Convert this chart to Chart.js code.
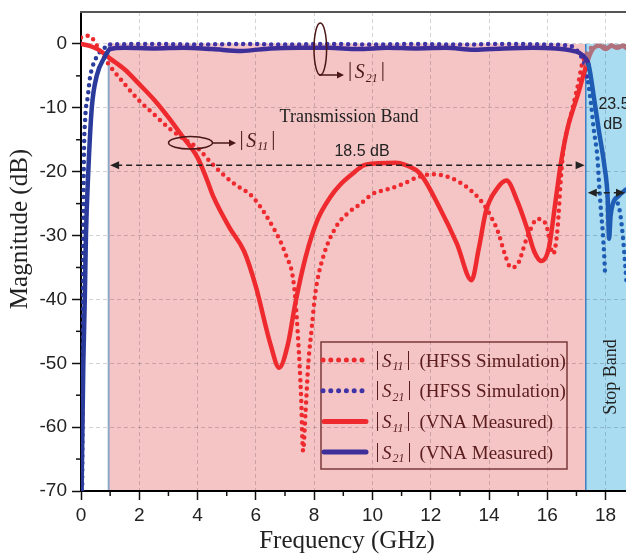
<!DOCTYPE html>
<html>
<head>
<meta charset="utf-8">
<script src="https://cdn.jsdelivr.net/npm/chart.js@4.4.0/dist/chart.umd.min.js"></script>
<style>
  body { margin: 0; background: #fff; }
  #wrap { width: 626px; height: 554px; position: relative; }
</style>
</head>
<body>
<div id="wrap"><canvas id="chart"></canvas></div>
<script>
// axis ticks
const freqTicks = [0, 2, 4, 6, 8, 10, 12, 14, 16, 18];
const freqMinor = [1, 3, 5, 7, 9, 11, 13, 15, 17];
const magTicks = [-70, -60, -50, -40, -30, -20, -10, 0];
const magMinor = [-65, -55, -45, -35, -25, -15, -5];

// bands (GHz)
const passStart = 0.95;
const stopStart = 17.32;

// |S11| VNA measured
const s11MeasFreq = [0, 0.3, 0.6, 1.0, 1.5, 2.0, 2.5, 3.0, 3.5, 4.0, 4.3, 4.55, 5.1, 5.6, 6.0, 6.5, 6.8, 7.1, 7.35, 7.7,
  8.1, 8.55, 8.9, 9.35, 9.7, 10.2, 10.8, 11.1, 11.65, 12.3, 12.9, 13.4, 13.65, 13.9, 14.3, 14.6, 14.97, 15.3, 15.55, 15.8,
  16.05, 16.3, 16.46, 16.7, 16.9, 17.05, 17.25, 17.35, 17.45, 17.6, 17.8, 18.0, 18.2, 18.4, 18.6, 18.7];
const s11MeasDb = [0, -0.3, -0.9, -2.3, -4.0, -6.3, -8.7, -11.5, -14.6, -17.8, -21.0, -24.0, -28.8, -32.5, -38.0, -47.0, -50.7, -47.0, -40.7, -33.5,
  -27.7, -24.0, -22.0, -20.2, -19.0, -18.7, -18.6, -18.9, -20.4, -25.6, -31.3, -37.0, -32.0, -26.1, -22.5, -21.4, -24.6, -28.8, -32.5, -34.0,
  -32.0, -24.0, -18.8, -13.1, -10.0, -7.9, -4.7, -3.2, -1.8, -0.6, -0.3, -0.8, -0.3, -0.6, -0.3, -0.6];

// |S11| HFSS simulation
const s11SimFreq = [0, 0.2, 0.35, 0.55, 0.8, 1.0, 1.5, 2.0, 2.5, 3.0, 3.5, 4.0, 4.5, 5.2, 5.9, 6.3, 6.6, 6.85, 7.07, 7.25,
  7.35, 7.46, 7.55, 7.62, 7.7, 7.8, 7.92, 8.04, 8.3, 8.73, 9.13, 9.6, 10.0, 10.5, 11.0, 11.6, 12.1, 12.7, 13.26, 13.8,
  14.0, 14.3, 14.55, 14.75, 14.98, 15.3, 15.67, 15.95, 16.2, 16.35, 16.46, 16.56, 16.74, 16.9, 17.08, 17.2, 17.35, 17.5, 17.7, 18.0,
  18.3, 18.5, 18.7];
const s11SimDb = [1.0, 1.3, 1.1, -0.3, -2.2, -3.5, -6.3, -8.9, -11.0, -13.1, -14.8, -16.3, -18.8, -21.7, -24.0, -26.5, -28.8, -31.0, -33.5, -36.0,
  -39.7, -47.0, -55.0, -63.7, -58.0, -50.0, -44.4, -39.0, -33.5, -28.8, -26.6, -25.0, -23.5, -22.8, -22.0, -20.8, -20.4, -21.0, -22.5, -25.0,
  -26.5, -29.3, -33.0, -35.0, -34.5, -30.4, -27.4, -28.2, -32.9, -29.0, -21.4, -16.3, -12.5, -9.4, -5.8, -3.0, -1.5, -0.6, -0.3, -0.4,
  -0.2, -0.5, -0.3];

// |S21| VNA measured
const s21MeasFreq = [0.02, 0.08, 0.13, 0.17, 0.25, 0.37, 0.54, 0.82, 1.0, 1.5, 2.5, 3.5, 4.5, 5.5, 6.5, 7.5, 8.5, 9.5, 10.5, 11.5,
  12.5, 13.5, 14.5, 15.5, 16.3, 16.8, 17.1, 17.3, 17.42, 17.6, 17.77, 17.95, 18.07, 18.12, 18.17, 18.25, 18.45, 18.7];
const s21MeasDb = [-70, -50, -40, -30, -20, -10, -5, -2, -0.8, -0.6, -0.7, -0.6, -0.8, -1.1, -0.7, -0.6, -0.6, -0.8, -0.6, -0.7,
  -0.6, -0.9, -0.7, -0.6, -0.7, -1.0, -1.4, -2.2, -3.3, -8.4, -13.6, -18.8, -24.0, -30.5, -27.0, -25.0, -23.8, -22.8];

// |S21| HFSS simulation (null = gap)
const s21SimFreq = [0.04, 0.06, 0.08, 0.1, 0.14, 0.24, 0.3, 0.4, 0.54, 0.7, 0.88, 1.0, 2.5, 4.0, 5.5, 7.0, 8.5, 10.0, 11.5, 13.0,
  14.5, 16.0, 16.6, 16.9, 17.05, 17.2, 17.3, 17.4, 17.5, 17.6, 17.72, 17.77, 17.84, 17.9, 17.95, 17.98, 18.2, 18.42, 18.5, 18.6,
  18.67, 18.72];
const s21SimDb = [-70, -50, -30, -18, -12, -8, -5.5, -3.5, -2.0, -1.0, -0.4, -0.1, 0, -0.1, 0, -0.1, 0, -0.1, 0, -0.1,
  0, -0.1, -0.2, -0.5, -1.2, -2.3, -3.5, -6.0, -9.4, -13.6, -17.8, -21.4, -26.1, -29.3, -32.9, -35.8, null, -25.0, -26.5, -30.5,
  -34.4, -37.6];

const RED = '#ee2a2f';
const PURPLE = '#3e2e9a';
const PURPLE_DOT = '#3f33a6';
const NAVY = '#2b3b9c';
const STOP_BLUE = '#1f5db5';
const MAUVE = '#b0707c';
const SERIF = '"Liberation Serif", "Times New Roman", serif';
const SANS = '"Liberation Sans", Arial, sans-serif';

Chart.defaults.font.family = SANS;

function pts(f, d) {
  return f.map((x, i) => ({ x: x, y: d[i] }));
}

function segColor(base, left, stop) {
  return ctx => {
    const x = ctx.p0.parsed.x;
    if (x >= stopStart - 0.01) return stop;
    if (left && x < passStart) return left;
    return base;
  };
}

// shaded pass / stop bands, under the grid
const bandsPlugin = {
  id: 'bands',
  beforeDraw(chart) {
    const ctx = chart.ctx, xs = chart.scales.x, ys = chart.scales.y, a = chart.chartArea;
    const x1 = xs.getPixelForValue(passStart), x2 = xs.getPixelForValue(stopStart);
    const yTop = ys.getPixelForValue(0), yBot = ys.getPixelForValue(-70);
    ctx.save();
    ctx.fillStyle = '#f5c5c6';
    ctx.fillRect(x1, yTop, x2 - x1, yBot - yTop);
    ctx.fillStyle = '#a9dcf1';
    ctx.fillRect(x2, yTop, a.right - x2, yBot - yTop);
    ctx.lineWidth = 2;
    ctx.strokeStyle = '#8ea6c8';
    ctx.beginPath(); ctx.moveTo(x1, yTop); ctx.lineTo(x1, yBot); ctx.stroke();
    ctx.lineWidth = 1.5;
    ctx.strokeStyle = '#3d7dc2';
    ctx.beginPath(); ctx.moveTo(x2, yTop); ctx.lineTo(x2, yBot); ctx.stroke();
    ctx.restore();
  }
};

function line(ctx, x1, y1, x2, y2) {
  ctx.beginPath(); ctx.moveTo(x1, y1); ctx.lineTo(x2, y2); ctx.stroke();
}

function arrowHead(ctx, x, y, dir, len, half) {
  ctx.beginPath();
  ctx.moveTo(x, y);
  ctx.lineTo(x - dir * len, y - half);
  ctx.lineTo(x - dir * len, y + half);
  ctx.closePath();
  ctx.fill();
}

// |S_sub| with italic S and subscript
function sLabel(ctx, x, base, sub, size, color) {
  ctx.fillStyle = color;
  ctx.textAlign = 'left';
  ctx.textBaseline = 'alphabetic';
  ctx.font = (size + 1) + 'px ' + SERIF;
  ctx.fillText('|', x, base - 2);
  x += ctx.measureText('|').width + 2.5;
  ctx.font = 'italic ' + size + 'px ' + SERIF;
  ctx.fillText('S', x, base);
  x += ctx.measureText('S').width + 1;
  ctx.font = 'italic ' + Math.round(size * 0.62) + 'px ' + SERIF;
  ctx.fillText(sub, x, base + 3.5);
  x += ctx.measureText(sub).width + 3;
  ctx.font = (size + 1) + 'px ' + SERIF;
  ctx.fillText('|', x, base - 2);
  return x + ctx.measureText('|').width;
}

const legendItems = [
  { sub: '11', note: '(HFSS Simulation)', color: RED, dotted: true },
  { sub: '21', note: '(HFSS Simulation)', color: PURPLE_DOT, dotted: true },
  { sub: '11', note: '(VNA Measured)', color: RED, dotted: false },
  { sub: '21', note: '(VNA Measured)', color: PURPLE, dotted: false }
];

const decorPlugin = {
  id: 'decor',
  afterDraw(chart) {
    const ctx = chart.ctx, xs = chart.scales.x, ys = chart.scales.y, a = chart.chartArea;
    const px = v => xs.getPixelForValue(v), py = v => ys.getPixelForValue(v);
    ctx.save();

    // frame top
    ctx.strokeStyle = '#555';
    ctx.lineWidth = 2;
    line(ctx, a.left - 1, a.top, a.right, a.top);

    // minor ticks
    ctx.strokeStyle = '#111';
    ctx.lineWidth = 1.5;
    freqMinor.forEach(v => line(ctx, px(v), a.bottom, px(v), a.bottom + 5));
    magMinor.forEach(v => line(ctx, a.left, py(v), a.left - 5, py(v)));

    // axis titles
    ctx.fillStyle = '#222';
    ctx.font = '25px ' + SERIF;
    ctx.textAlign = 'center';
    ctx.textBaseline = 'alphabetic';
    ctx.fillText('Frequency (GHz)', 347, 548);
    ctx.save();
    ctx.translate(27, 229);
    ctx.rotate(-Math.PI / 2);
    ctx.fillText('Magnitude (dB)', 0, 0);
    ctx.restore();

    // band labels
    ctx.font = '18px ' + SERIF;
    ctx.fillStyle = '#222';
    ctx.fillText('Transmission Band', 349, 122);
    ctx.save();
    ctx.translate(616, 377);
    ctx.rotate(-Math.PI / 2);
    ctx.fillText('Stop Band', 0, 0);
    ctx.restore();

    // 18.5 dB span arrow
    ctx.strokeStyle = '#222';
    ctx.fillStyle = '#222';
    ctx.lineWidth = 1.5;
    const yA = py(-19), xa1 = px(1.0), xa2 = px(17.28);
    ctx.setLineDash([6, 4]);
    line(ctx, xa1 + 6, yA, xa2 - 6, yA);
    ctx.setLineDash([]);
    arrowHead(ctx, xa1, yA, -1, 9, 4);
    arrowHead(ctx, xa2, yA, 1, 9, 4);
    ctx.font = '16px ' + SANS;
    ctx.fillText('18.5 dB', 362, 155.5);

    // 23.5 dB stop band arrow
    const yB = py(-23.3), xb1 = px(stopStart) + 2, xb2 = a.right - 1;
    ctx.setLineDash([6, 4]);
    line(ctx, xb1 + 6, yB, xb2 - 6, yB);
    ctx.setLineDash([]);
    arrowHead(ctx, xb1, yB, -1, 9, 4);
    arrowHead(ctx, xb2, yB, 1, 9, 4);
    ctx.fillText('23.5', 614, 109);
    ctx.fillText('dB', 613, 129);

    // |S11| callout
    const dark = '#4a1616';
    ctx.strokeStyle = dark;
    ctx.fillStyle = dark;
    ctx.lineWidth = 1.5;
    ctx.beginPath();
    ctx.ellipse(190.5, 142.8, 22, 6.2, 0, 0, Math.PI * 2);
    ctx.stroke();
    line(ctx, 212.5, 143, 230, 143);
    arrowHead(ctx, 236, 143, 1, 7, 3.5);
    sLabel(ctx, 239.5, 146.7, '11', 20, dark);

    // |S21| callout
    ctx.strokeStyle = dark;
    ctx.fillStyle = dark;
    ctx.beginPath();
    ctx.ellipse(320.3, 49, 6.3, 26, 0, 0, Math.PI * 2);
    ctx.stroke();
    line(ctx, 319, 75, 338, 75);
    arrowHead(ctx, 344, 75, 1, 7, 3.5);
    sLabel(ctx, 348, 78.3, '21', 20, dark);

    // legend
    const lx = 321, ly = 342, lw = 246, lh = 127;
    ctx.strokeStyle = '#7b3a3a';
    ctx.lineWidth = 1.5;
    ctx.strokeRect(lx, ly, lw, lh);
    legendItems.forEach((it, i) => {
      const y = 360 + i * 30.7;
      ctx.strokeStyle = it.color;
      ctx.lineCap = 'round';
      if (it.dotted) {
        ctx.lineWidth = 5;
        ctx.setLineDash([0, 7.8]);
        line(ctx, 323, y, 363, y);
        ctx.setLineDash([]);
      } else {
        ctx.lineWidth = 5;
        line(ctx, 324, y, 366, y);
      }
      ctx.lineCap = 'butt';
      const tc = '#5a1c1c';
      sLabel(ctx, 375.5, y + 6.7, it.sub, 19, tc);
      ctx.font = '19px ' + SERIF;
      ctx.fillStyle = tc;
      ctx.textAlign = 'left';
      ctx.fillText(it.note, 419.5, y + 6.7);
    });

    ctx.restore();
  }
};

const dottedStyle = { borderWidth: 4.5, borderDash: [0, 7], borderCapStyle: 'round' };
const solidStyle = { borderWidth: 4.5, borderCapStyle: 'round', borderJoinStyle: 'round' };

new Chart(document.getElementById('chart'), {
  type: 'line',
  data: {
    datasets: [
      Object.assign({
        label: '|S21| (VNA Measured)',
        data: pts(s21MeasFreq, s21MeasDb),
        borderColor: PURPLE,
        segment: { borderColor: segColor(PURPLE, NAVY, STOP_BLUE) }
      }, solidStyle),
      Object.assign({
        label: '|S11| (VNA Measured)',
        data: pts(s11MeasFreq, s11MeasDb),
        borderColor: RED,
        segment: { borderColor: segColor(RED, null, MAUVE) }
      }, solidStyle),
      Object.assign({
        label: '|S21| (HFSS Simulation)',
        data: pts(s21SimFreq, s21SimDb),
        borderColor: PURPLE_DOT,
        spanGaps: false,
        segment: { borderColor: segColor(PURPLE_DOT, NAVY, STOP_BLUE) }
      }, dottedStyle),
      Object.assign({
        label: '|S11| (HFSS Simulation)',
        data: pts(s11SimFreq, s11SimDb),
        borderColor: RED,
        segment: { borderColor: segColor(RED, null, MAUVE) }
      }, dottedStyle)
    ]
  },
  options: {
    responsive: true,
    maintainAspectRatio: false,
    animation: false,
    layout: { padding: 0 },
    elements: {
      point: { radius: 0 },
      line: { cubicInterpolationMode: 'monotone', fill: false }
    },
    plugins: {
      legend: { display: false },
      tooltip: { enabled: false }
    },
    scales: {
      x: {
        type: 'linear',
        min: 0,
        max: 18.7,
        afterBuildTicks: s => { s.ticks = freqTicks.map(v => ({ value: v })); },
        afterFit: s => { s.height = 63; s.paddingLeft = 0; s.paddingRight = 0; },
        ticks: { color: '#222', font: { size: 19 }, padding: 4, maxRotation: 0 },
        grid: { color: 'rgba(0,0,0,0.17)', lineWidth: 1, tickLength: 9, tickColor: '#111', tickWidth: 1.5 },
        border: { color: '#000', width: 2, dash: [4, 3] }
      },
      y: {
        type: 'linear',
        min: -70,
        max: 5,
        afterBuildTicks: s => { s.ticks = magTicks.map(v => ({ value: v })); },
        afterFit: s => { s.width = 81; s.paddingTop = 12; s.paddingBottom = 0; },
        ticks: { color: '#222', font: { size: 19 }, padding: 5 },
        grid: { color: 'rgba(0,0,0,0.17)', lineWidth: 1, tickLength: 9, tickColor: '#111', tickWidth: 1.5 },
        border: { color: '#000', width: 2, dash: [4, 3] }
      }
    }
  },
  plugins: [bandsPlugin, decorPlugin]
});
</script>
</body>
</html>
